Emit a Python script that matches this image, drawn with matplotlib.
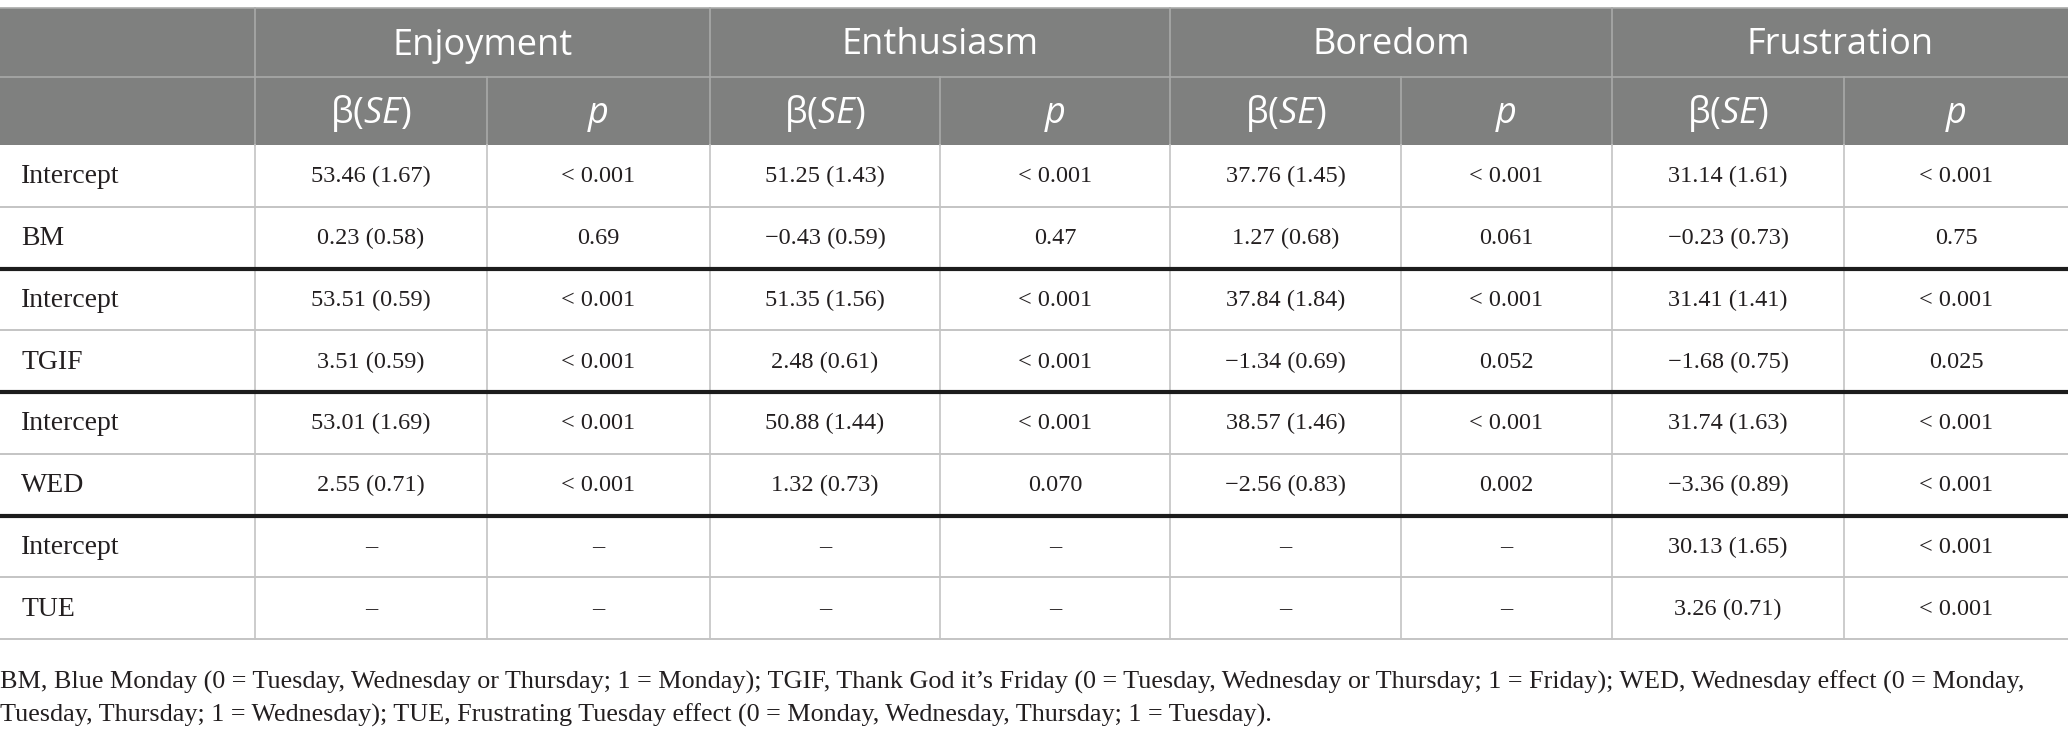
import matplotlib
matplotlib.use("Agg")
import matplotlib.pyplot as plt

# ---- table content ----
groups = ["Enjoyment", "Enthusiasm", "Boredom", "Frustration"]
row_labels = ["Intercept", "BM", "Intercept", "TGIF", "Intercept", "WED", "Intercept", "TUE"]

enjoyment_b = ["53.46 (1.67)", "0.23 (0.58)", "53.51 (0.59)", "3.51 (0.59)",
               "53.01 (1.69)", "2.55 (0.71)", "–", "–"]
enjoyment_p = ["< 0.001", "0.69", "< 0.001", "< 0.001", "< 0.001", "< 0.001", "–", "–"]
enthusiasm_b = ["51.25 (1.43)", "−0.43 (0.59)", "51.35 (1.56)", "2.48 (0.61)",
                "50.88 (1.44)", "1.32 (0.73)", "–", "–"]
enthusiasm_p = ["< 0.001", "0.47", "< 0.001", "< 0.001", "< 0.001", "0.070", "–", "–"]
boredom_b = ["37.76 (1.45)", "1.27 (0.68)", "37.84 (1.84)", "−1.34 (0.69)",
             "38.57 (1.46)", "−2.56 (0.83)", "–", "–"]
boredom_p = ["< 0.001", "0.061", "< 0.001", "0.052", "< 0.001", "0.002", "–", "–"]
frustration_b = ["31.14 (1.61)", "−0.23 (0.73)", "31.41 (1.41)", "−1.68 (0.75)",
                 "31.74 (1.63)", "−3.36 (0.89)", "30.13 (1.65)", "3.26 (0.71)"]
frustration_p = ["< 0.001", "0.75", "< 0.001", "0.025", "< 0.001", "< 0.001", "< 0.001", "< 0.001"]

footnote = [
    "BM, Blue Monday (0 = Tuesday, Wednesday or Thursday; 1 = Monday); TGIF, Thank God it’s Friday "
    "(0 = Tuesday, Wednesday or Thursday; 1 = Friday); WED, Wednesday effect (0 = Monday,",
    "Tuesday, Thursday; 1 = Wednesday); TUE, Frustrating Tuesday effect "
    "(0 = Monday, Wednesday, Thursday; 1 = Tuesday).",
]

columns = [enjoyment_b, enjoyment_p, enthusiasm_b, enthusiasm_p,
           boredom_b, boredom_p, frustration_b, frustration_p]

# ---- layout (pixel coordinates) ----
W, H = 2068, 732
col_edges = [0, 255, 487, 710, 940, 1170, 1401, 1612, 1844, 2068]
head_top, head_mid, head_bot = 8, 77, 145
row_h = 61.75
thick_after = [1, 3, 5]  # thick rule below these rows

header_grey = "#7f807f"
head_line = "#a9aaa9"
grid_grey = "#c4c4c4"
ink = "#231f20"

plt.rcParams["mathtext.fontset"] = "custom"
plt.rcParams["mathtext.rm"] = "Open Sans"
plt.rcParams["mathtext.it"] = "Open Sans:italic"

fig = plt.figure(figsize=(W / 100, H / 100), dpi=100)
ax = fig.add_axes([0, 0, 1, 1])
ax.set_xlim(0, W)
ax.set_ylim(H, 0)
ax.axis("off")

# header background
ax.add_patch(plt.Rectangle((0, head_top), W, head_bot - head_top,
                           facecolor=header_grey, edgecolor="none"))
ax.plot([0, W], [head_top, head_top], color=head_line, lw=1.2)
ax.plot([0, W], [head_mid, head_mid], color=head_line, lw=1.2)

# header verticals
for i, x in enumerate(col_edges[1:-1], start=1):
    y0 = head_top if i % 2 == 1 else head_mid
    ax.plot([x, x], [y0, head_bot], color=head_line, lw=1.2)

head_font = "Open Sans"
head_size = 26
for g, name in enumerate(groups):
    x0, x1 = col_edges[1 + 2 * g], col_edges[3 + 2 * g]
    ax.text((x0 + x1) / 2, (head_top + head_mid) / 2 + 3, name, color="white",
            fontsize=head_size, family=head_font, ha="center", va="center")
    xb = (col_edges[1 + 2 * g] + col_edges[2 + 2 * g]) / 2
    xp = (col_edges[2 + 2 * g] + col_edges[3 + 2 * g]) / 2
    ax.text(xb, (head_mid + head_bot) / 2 + 3, r"β($\mathit{SE}$)", color="white",
            fontsize=head_size, family=head_font, ha="center", va="center")
    ax.text(xp, (head_mid + head_bot) / 2 + 3, "p", color="white",
            fontsize=head_size, family=head_font, style="italic", ha="center", va="center")

# body
n = len(row_labels)
body_bot = head_bot + n * row_h
for x in col_edges[1:-1]:
    ax.plot([x, x], [head_bot, body_bot], color=grid_grey, lw=1.2)

for r in range(n):
    y_bot = head_bot + (r + 1) * row_h
    yc = head_bot + (r + 0.5) * row_h
    if r in thick_after:
        ax.plot([0, W], [y_bot, y_bot], color="#1c1c1c", lw=3.0, solid_capstyle="butt", zorder=3)
    else:
        ax.plot([0, W], [y_bot, y_bot], color=grid_grey, lw=1.4, zorder=2)
    ax.text(21, yc + 1, row_labels[r], color=ink, fontsize=20,
            family="Liberation Serif", ha="left", va="center")
    for c, vals in enumerate(columns):
        xc = (col_edges[c + 1] + col_edges[c + 2]) / 2
        ax.text(xc, yc + 1, vals[r], color=ink, fontsize=17.5,
                family="Liberation Serif", ha="center", va="center")

# footnote
for i, line in enumerate(footnote):
    ax.text(0, 682 + i * 33, line, color=ink, fontsize=18.8,
            family="Liberation Serif", ha="left", va="center")

fig.savefig("out.png", dpi=100)
